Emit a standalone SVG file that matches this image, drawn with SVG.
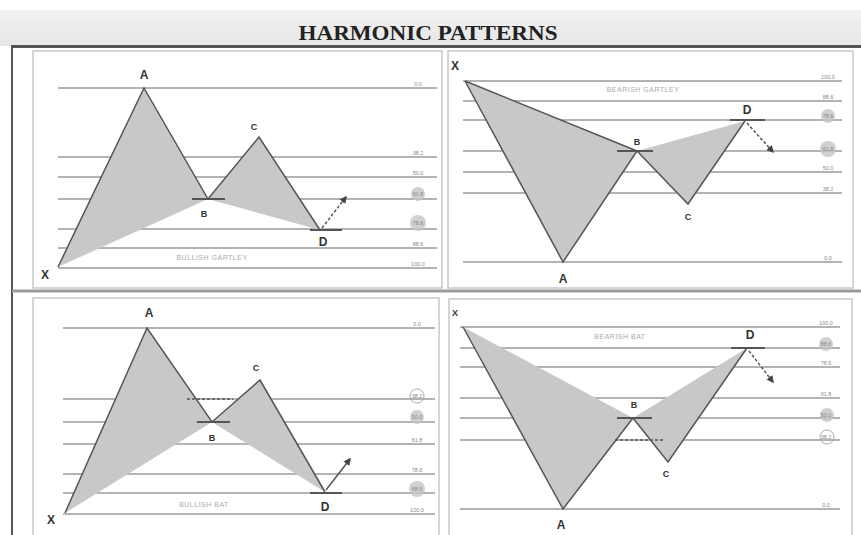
<svg xmlns="http://www.w3.org/2000/svg" width="861" height="535" viewBox="0 0 861 535">
<defs>
<linearGradient id="band" x1="0" y1="0" x2="0" y2="1">
<stop offset="0" stop-color="#f2f2f2"/>
<stop offset="1" stop-color="#e6e6e6"/>
</linearGradient>
<marker id="ah" viewBox="0 0 10 10" refX="8" refY="5" markerWidth="5" markerHeight="5" orient="auto">
<path d="M0,0 L10,5 L0,10 z" fill="#444"/>
</marker>
</defs>
<style>
.panel{fill:#fff;stroke:#c8c8c8;stroke-width:1.5}
.lvl{stroke:#9a9a9a;stroke-width:1.3}
.fill{fill:#c8c8c8;stroke:none}
.leg{fill:none;stroke:#555;stroke-width:1.5}
.tick{stroke:#555;stroke-width:2}
.dash{stroke:#555;stroke-width:1.5;stroke-dasharray:3,2;fill:none}
.pt{font-family:"Liberation Sans",Arial,sans-serif;font-weight:bold;fill:#333;text-anchor:middle}
.big{font-size:12px}
.sm{font-size:9px}
.lab{font-family:"Liberation Sans",Arial,sans-serif;font-size:5.5px;fill:#888;text-anchor:middle}
.name{font-family:"Liberation Sans",Arial,sans-serif;font-size:7px;fill:#aaa;text-anchor:middle;letter-spacing:0.5px}
.cf{fill:#c4c4c4;opacity:0.8}
.co{fill:none;stroke:#aaa;stroke-width:1}
.title{font-family:"Liberation Serif","Times New Roman",serif;font-weight:bold;font-size:22px;fill:#222;text-anchor:middle}
</style>
<rect x="0" y="0" width="861" height="535" fill="#fff"/>
<rect x="0" y="10" width="861" height="36" fill="url(#band)"/>
<text class="title" x="428" y="40" textLength="259" lengthAdjust="spacingAndGlyphs">HARMONIC PATTERNS</text>
<line x1="11" y1="46.5" x2="861" y2="46.5" stroke="#555" stroke-width="3"/>
<line x1="12" y1="45" x2="12" y2="535" stroke="#555" stroke-width="2"/>
<line x1="12" y1="291" x2="861" y2="291" stroke="#9a9a9a" stroke-width="3"/>

<g id="bullish-gartley">
<rect class="panel" x="33" y="51" width="409" height="237"/>
<line class="lvl" x1="58" y1="88" x2="437" y2="88"/>
<line class="lvl" x1="58" y1="157" x2="437" y2="157"/>
<line class="lvl" x1="58" y1="177" x2="437" y2="177"/>
<line class="lvl" x1="58" y1="199" x2="437" y2="199"/>
<line class="lvl" x1="58" y1="229" x2="437" y2="229"/>
<line class="lvl" x1="58" y1="248" x2="437" y2="248"/>
<line class="lvl" x1="58" y1="268" x2="437" y2="268"/>
<circle class="cf" cx="418" cy="194" r="7"/>
<circle class="cf" cx="418" cy="223" r="8"/>
<text class="lab" x="418" y="86">0.0</text>
<text class="lab" x="418" y="155">38.2</text>
<text class="lab" x="418" y="175">50.0</text>
<text class="lab" x="418" y="196">61.8</text>
<text class="lab" x="418" y="225">78.6</text>
<text class="lab" x="418" y="246">88.6</text>
<text class="lab" x="418" y="266">100.0</text>
<polygon class="fill" points="58,267 144,88 208,199"/>
<polygon class="fill" points="208,199 259,137 320,230"/>
<polyline class="leg" points="58,267 144,88 208,199 259,137 320,230"/>
<line class="tick" x1="192" y1="199" x2="225" y2="199"/>
<line class="tick" x1="310" y1="230" x2="342" y2="230"/>
<line class="dash" x1="322" y1="228" x2="346" y2="197" marker-end="url(#ah)"/>
<text class="pt big" x="144" y="79">A</text>
<text class="pt sm" x="204" y="217">B</text>
<text class="pt sm" x="254" y="130">C</text>
<text class="pt big" x="323" y="246">D</text>
<text class="pt big" x="45" y="279">X</text>
<text class="name" x="212" y="260">BULLISH GARTLEY</text>
</g>

<g id="bearish-gartley">
<rect class="panel" x="448" y="51" width="405" height="237"/>
<line class="lvl" x1="463" y1="81" x2="842" y2="81"/>
<line class="lvl" x1="463" y1="101" x2="842" y2="101"/>
<line class="lvl" x1="463" y1="120" x2="842" y2="120"/>
<line class="lvl" x1="463" y1="151" x2="842" y2="151"/>
<line class="lvl" x1="463" y1="172" x2="842" y2="172"/>
<line class="lvl" x1="463" y1="193" x2="842" y2="193"/>
<line class="lvl" x1="463" y1="262" x2="842" y2="262"/>
<circle class="cf" cx="828" cy="116" r="7"/>
<circle class="cf" cx="828" cy="149" r="8"/>
<text class="lab" x="828" y="79">100.0</text>
<text class="lab" x="828" y="99">88.6</text>
<text class="lab" x="828" y="118">78.6</text>
<text class="lab" x="828" y="151">61.8</text>
<text class="lab" x="828" y="170">50.0</text>
<text class="lab" x="828" y="191">38.2</text>
<text class="lab" x="828" y="260">0.0</text>
<polygon class="fill" points="465,81 563,262 637,151"/>
<polygon class="fill" points="637,151 688,204 745,121"/>
<polyline class="leg" points="465,81 563,262 637,151 688,204 745,121"/>
<line class="leg" x1="465" y1="81" x2="637" y2="151" stroke="none"/>
<line class="tick" x1="617" y1="151" x2="653" y2="151"/>
<line class="tick" x1="730" y1="120" x2="765" y2="120"/>
<line class="dash" x1="747" y1="123" x2="773" y2="152" marker-end="url(#ah)"/>
<text class="pt big" x="455" y="70">X</text>
<text class="pt big" x="563" y="283">A</text>
<text class="pt sm" x="637" y="145">B</text>
<text class="pt sm" x="688" y="220">C</text>
<text class="pt big" x="747" y="114">D</text>
<text class="name" x="643" y="92">BEARISH GARTLEY</text>
</g>

<g id="bullish-bat">
<rect class="panel" x="33" y="298" width="406" height="240"/>
<line class="lvl" x1="63" y1="328" x2="435" y2="328"/>
<line class="lvl" x1="63" y1="399" x2="435" y2="399"/>
<line class="lvl" x1="63" y1="422" x2="435" y2="422"/>
<line class="lvl" x1="63" y1="444" x2="435" y2="444"/>
<line class="lvl" x1="63" y1="474" x2="435" y2="474"/>
<line class="lvl" x1="63" y1="493" x2="435" y2="493"/>
<line class="lvl" x1="63" y1="514" x2="435" y2="514"/>
<circle class="co" cx="417" cy="396" r="7"/>
<circle class="cf" cx="417" cy="417" r="7"/>
<circle class="cf" cx="417" cy="489" r="8"/>
<text class="lab" x="417" y="326">0.0</text>
<text class="lab" x="417" y="398">38.2</text>
<text class="lab" x="417" y="419">50.0</text>
<text class="lab" x="417" y="442">61.8</text>
<text class="lab" x="417" y="472">78.6</text>
<text class="lab" x="417" y="491">88.6</text>
<text class="lab" x="417" y="512">100.0</text>
<polygon class="fill" points="65,513 147,328 212,422"/>
<polygon class="fill" points="212,422 260,380 325,492"/>
<polyline class="leg" points="65,513 147,328 212,422 260,380 325,492"/>
<line class="tick" x1="197" y1="422" x2="230" y2="422"/>
<line class="dash" x1="187" y1="399" x2="233" y2="399"/>
<line class="tick" x1="310" y1="493" x2="342" y2="493"/>
<line class="leg" x1="326" y1="490" x2="350" y2="459" marker-end="url(#ah)"/>
<text class="pt big" x="149" y="317">A</text>
<text class="pt sm" x="212" y="441">B</text>
<text class="pt sm" x="256" y="371">C</text>
<text class="pt big" x="325" y="511">D</text>
<text class="pt big" x="51" y="524">X</text>
<text class="name" x="204" y="507">BULLISH BAT</text>
</g>

<g id="bearish-bat">
<rect class="panel" x="449" y="299" width="403" height="240"/>
<line class="lvl" x1="460" y1="327" x2="840" y2="327"/>
<line class="lvl" x1="460" y1="348" x2="840" y2="348"/>
<line class="lvl" x1="460" y1="367" x2="840" y2="367"/>
<line class="lvl" x1="460" y1="398" x2="840" y2="398"/>
<line class="lvl" x1="460" y1="418" x2="840" y2="418"/>
<line class="lvl" x1="460" y1="440" x2="840" y2="440"/>
<line class="lvl" x1="460" y1="509" x2="840" y2="509"/>
<circle class="cf" cx="826" cy="344" r="7"/>
<circle class="cf" cx="827" cy="415" r="7"/>
<circle class="co" cx="827" cy="437" r="7"/>
<text class="lab" x="826" y="325">100.0</text>
<text class="lab" x="826" y="346">88.6</text>
<text class="lab" x="826" y="365">78.6</text>
<text class="lab" x="826" y="396">61.8</text>
<text class="lab" x="826" y="417">50.0</text>
<text class="lab" x="826" y="439">38.2</text>
<text class="lab" x="826" y="507">0.0</text>
<polygon class="fill" points="463,327 563,509 633,418"/>
<polygon class="fill" points="633,418 668,462 747,348"/>
<polyline class="leg" points="463,327 563,509 633,418 668,462 747,348"/>
<line class="tick" x1="617" y1="418" x2="652" y2="418"/>
<line class="dash" x1="615" y1="440" x2="665" y2="440"/>
<line class="tick" x1="731" y1="348" x2="765" y2="348"/>
<line class="dash" x1="749" y1="351" x2="773" y2="382" marker-end="url(#ah)"/>
<text class="pt sm" x="455" y="316">X</text>
<text class="pt big" x="561" y="529">A</text>
<text class="pt sm" x="634" y="408">B</text>
<text class="pt sm" x="666" y="477">C</text>
<text class="pt big" x="750" y="339">D</text>
<text class="name" x="620" y="339">BEARISH BAT</text>
</g>
</svg>
